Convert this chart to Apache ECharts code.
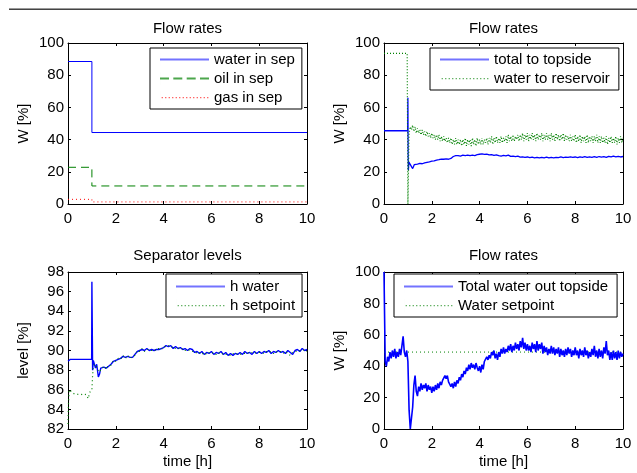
<!DOCTYPE html>
<html>
<head>
<meta charset="utf-8">
<script src="https://cdn.jsdelivr.net/npm/echarts@6/dist/echarts.min.js"></script>
<style>
html,body{margin:0;padding:0;background:#fff;}
#chart{width:637px;height:473px;}
</style>
</head>
<body>
<div id="chart"></div>
<script>
// ---------- DATA ----------
const xTicks = [0, 2, 4, 6, 8, 10];
const titles = ["Flow rates", "Flow rates", "Separator levels", "Flow rates"];

// Panel 1 (step profiles) [time, value]
const waterInSep = [[0, 88.5], [1, 88.5], [1, 44.4], [10, 44.4]];
const oilInSep = [[0, 22.8], [1, 22.8], [1, 11.2], [10, 11.2]];
const gasInSep = [[0, 2.9], [1, 2.9], [1, 1.3], [10, 1.3]];

// Panel 2
const totalTopsidePrefix = [[0, 45.5], [0.99, 45.5], [1.0, 66], [1.01, 30], [1.02, 21], [1.04, 26], [1.08, 27], [1.12, 25.5], [1.2, 22], [1.27, 24.5], [1.35, 24.3]];
const totalTopsideStart = 1.4, totalTopsideStep = 0.1;
const totalTopside = [24.8, 25.2, 25.0, 25.6, 25.9, 26.2, 26.6, 26.8, 27.3, 27.5, 27.9, 27.8, 28.0, 27.8, 28.3, 29.5, 30.0, 30.1, 29.8, 30.3,
  30.1, 30.4, 30.0, 30.3, 30.1, 30.6, 30.9, 31.2, 30.8, 31.0, 30.5, 30.7, 30.2, 30.5, 30.0, 29.8, 30.2, 29.9, 30.4, 29.6,
  29.8, 29.4, 29.7, 29.1, 29.3, 28.9, 29.2, 28.8, 29.1, 28.7, 29.0, 28.6, 29.0, 28.7, 29.1, 28.6, 28.9, 28.7, 29.0, 28.8,
  29.2, 28.8, 29.1, 28.9, 29.3, 28.9, 29.2, 28.8, 29.3, 29.0, 29.4, 28.9, 29.3, 29.0, 29.4, 29.0, 29.5, 29.1, 29.4, 29.0,
  29.6, 29.2, 29.7, 29.3, 29.6, 29.2, 29.5];

const waterReservoirPrefix = [[0, 93.5], [0.97, 93.5], [1.0, 0], [1.02, 0]];
const waterReservoirStart = 1.05, waterReservoirStep = 0.05;
const waterReservoir = [44, 48, 46, 49, 45, 48, 44, 47, 44, 46, 43, 46, 43, 45, 42, 45, 42, 44, 41, 44,
  41, 43, 40, 43, 40, 43, 39, 42, 39, 42, 39, 41, 38, 41, 38, 41, 37, 40, 37, 41,
  37, 40, 37, 40, 36, 40, 37, 41, 36, 40, 37, 40, 36, 41, 37, 40, 36, 41, 37, 40,
  37, 41, 37, 40, 38, 41, 37, 41, 38, 42, 37, 41, 38, 42, 38, 41, 38, 42, 38, 41,
  39, 42, 38, 43, 39, 42, 39, 43, 39, 42, 40, 43, 39, 43, 40, 44, 39, 43, 40, 44,
  39, 43, 40, 44, 40, 43, 39, 44, 40, 43, 40, 44, 39, 43, 40, 44, 40, 43, 39, 44,
  40, 43, 39, 44, 40, 43, 39, 43, 40, 44, 39, 43, 40, 42, 39, 43, 39, 42, 39, 43,
  38, 42, 39, 43, 38, 42, 39, 42, 38, 43, 38, 42, 39, 42, 38, 42, 39, 43, 38, 42,
  38, 42, 38, 41, 38, 42, 37, 41, 38, 42, 38, 41, 38, 42, 37, 41, 38, 42, 38, 41];

// Panel 3
const hWaterPrefix = [[0, 88.9], [0.05, 89.05], [0.1, 89.1], [0.99, 89.1], [1.0, 97], [1.02, 97], [1.03, 88], [1.06, 89.0], [1.1, 89.1], [1.15, 88.2], [1.2, 88.6], [1.27, 87.3], [1.32, 87.6], [1.37, 88.2]];
const hWaterStart = 1.4, hWaterStep = 0.1;
const hWater = [88.2, 88.3, 88.2, 88.4, 88.6, 88.9, 89.0, 89.1, 89.2, 89.4, 89.3, 89.4, 89.3, 89.3, 89.6, 89.9, 90.0, 90.1, 90.0, 90.2,
  90.0, 90.1, 90.0, 90.1, 90.1, 90.2, 90.3, 90.5, 90.4, 90.5, 90.2, 90.4, 90.2, 90.3, 90.1, 90.2, 90.0, 90.2, 90.1, 89.8,
  89.9, 89.7, 89.9, 89.6, 89.8, 89.7, 89.9, 89.6, 89.8, 89.7, 89.9, 89.6, 89.8, 89.5, 89.7, 89.5, 89.7, 89.6, 89.8, 89.6,
  89.9, 89.7, 89.8, 89.6, 89.9, 89.7, 89.9, 89.7, 89.9, 89.8, 90.0, 89.7, 89.9, 89.8, 90.0, 89.8, 89.9, 89.7, 90.0, 89.8,
  89.6, 90.0, 90.1, 89.9, 90.2, 90.0, 90.1];

const hSetpointPrefix = [[0, 82.5], [0.02, 84.5], [0.05, 86.0], [0.1, 86.1], [0.15, 85.8], [0.2, 85.9], [0.25, 85.6], [0.3, 85.8], [0.35, 85.6], [0.4, 85.7], [0.45, 85.5], [0.5, 85.7], [0.55, 85.5], [0.6, 85.7], [0.65, 85.6], [0.7, 85.8], [0.75, 85.5], [0.8, 85.4], [0.85, 85.1], [0.9, 85.7], [0.95, 85.8], [1.0, 86.0], [1.03, 87.5], [1.06, 88.3], [1.1, 88.6], [1.2, 88.3], [1.3, 87.8]];
const hSetpointStart = 1.4, hSetpointStep = 0.1;
const hSetpoint = [88.1, 88.4, 88.1, 88.5, 88.5, 89.0, 88.9, 89.2, 89.1, 89.5, 89.2, 89.5, 89.2, 89.4, 89.5, 90.0, 89.9, 90.2, 89.9, 90.1,
  90.1, 90.0, 90.1, 90.0, 90.2, 90.1, 90.4, 90.4, 90.5, 90.3, 90.4, 90.2, 90.3, 90.1, 90.2, 90.0, 90.1, 90.0, 89.9, 89.9,
  89.7, 89.8, 89.6, 89.8, 89.6, 89.8, 89.7, 89.8, 89.6, 89.8, 89.6, 89.7, 89.6, 89.6, 89.5, 89.7, 89.6, 89.7, 89.6, 89.7,
  89.7, 89.8, 89.7, 89.8, 89.7, 89.8, 89.8, 89.8, 89.7, 89.9, 89.8, 89.9, 89.7, 89.9, 89.8, 89.9, 89.7, 89.9, 89.7, 89.5,
  89.8, 89.9, 89.9, 90.0, 90.0, 90.1, 89.9];

// Panel 4
const waterOutStart = 0, waterOutStep = 0.05;
const waterOut = [100, 43, 40, 46, 43, 49, 45, 50, 46, 51, 45, 49, 46, 51, 47, 53, 59, 49, 46, 50,
  43, 12, 0, 0, 14, 28, 34, 24, 21, 27, 24, 29, 25, 28, 26, 29, 24, 28, 25, 27,
  23, 27, 24, 28, 25, 29, 26, 30, 28, 31, 30, 34, 32, 34, 30, 31, 27, 29, 26, 30,
  27, 31, 29, 33, 31, 35, 33, 37, 35, 39, 37, 41, 38, 42, 39, 41, 38, 42, 39, 37,
  40, 36, 41, 38, 43, 42, 46, 44, 47, 45, 49, 47, 50, 45, 48, 44, 49, 46, 51, 48,
  52, 48, 51, 49, 53, 50, 54, 49, 53, 50, 55, 51, 54, 50, 56, 52, 58, 51, 55, 50,
  54, 50, 53, 49, 55, 51, 54, 49, 56, 50, 54, 51, 55, 48, 53, 49, 52, 47, 51, 48,
  53, 48, 52, 47, 51, 48, 52, 46, 51, 47, 50, 46, 51, 47, 52, 48, 51, 46, 50, 47,
  52, 47, 50, 45, 51, 47, 50, 46, 52, 47, 50, 45, 49, 46, 51, 47, 53, 46, 50, 45,
  51, 46, 50, 45, 52, 48, 56, 47, 50, 44, 49, 44, 50, 45, 49, 44, 50, 45, 49, 46, 48];
const waterSetpoint = [[0, 49], [10, 49]];

// ---------- HELPERS ----------
function seg(t0, dt, vals) { return vals.map((v, i) => [+(t0 + i * dt).toFixed(4), v]); }

const FONT = 'Liberation Sans, Arial, Helvetica, sans-serif';
const BLUE = '#0000ff', GREEN = '#008000', RED = '#ff0000';

const grids = [
  { left: 68, top: 43, width: 239, height: 161 },
  { left: 384, top: 43, width: 239, height: 161 },
  { left: 68, top: 272, width: 239, height: 157 },
  { left: 384, top: 272, width: 239, height: 157 }
];
const yRanges = [[0, 100, 20], [0, 100, 20], [82, 98, 2], [0, 100, 20]];
const yNames = ["W [%]", "W [%]", "level [%]", "W [%]"];
const xNames = ["", "", "time [h]", "time [h]"];

const xAxes = [], yAxes = [];
for (let g = 0; g < 4; g++) {
  const common = {
    gridIndex: g, type: 'value',
    axisLine: { show: true, onZero: false, lineStyle: { color: '#000', width: 1 } },
    axisTick: { show: true, inside: true, length: 3, lineStyle: { color: '#000' } },
    splitLine: { show: false }
  };
  xAxes.push(Object.assign({}, common, {
    position: 'bottom', min: 0, max: 10, interval: 2,
    axisLabel: { show: true, margin: 7, color: '#000', fontSize: 15, fontFamily: FONT },
    name: xNames[g], nameLocation: 'middle', nameGap: 25,
    nameTextStyle: { color: '#000', fontSize: 15, fontFamily: FONT }
  }));
  xAxes.push(Object.assign({}, common, {
    position: 'top', min: 0, max: 10, interval: 2, axisLabel: { show: false }
  }));
  yAxes.push(Object.assign({}, common, {
    position: 'left', min: yRanges[g][0], max: yRanges[g][1], interval: yRanges[g][2],
    axisLabel: { show: true, margin: 4, color: '#000', fontSize: 15, fontFamily: FONT },
    name: yNames[g], nameLocation: 'middle', nameGap: 37,
    nameTextStyle: { color: '#000', fontSize: 15, fontFamily: FONT }
  }));
  yAxes.push(Object.assign({}, common, {
    position: 'right', min: yRanges[g][0], max: yRanges[g][1], interval: yRanges[g][2],
    axisLabel: { show: false }
  }));
}

const DASH = [8, 5], DOT = [1, 3];
const styleOf = {};
function line(name, g, data, color, kind, z, w) {
  styleOf[name] = { color: color, kind: kind || 'solid' };
  const type = kind === 'dash' ? DASH : kind === 'dot' ? DOT : kind === 'dot2' ? [1, 2] : 'solid';
  return {
    name: name, type: 'line', xAxisIndex: g * 2, yAxisIndex: g * 2,
    data: data, showSymbol: false, symbol: 'none', animation: false,
    z: z || 2,
    lineStyle: { color: color, width: w || 1, type: type },
    itemStyle: { color: color }
  };
}

const series = [
  line("water in sep", 0, waterInSep, BLUE),
  line("oil in sep", 0, oilInSep, GREEN, 'dash'),
  line("gas in sep", 0, gasInSep, RED, 'dot'),
  line("total to topside", 1, totalTopsidePrefix.concat(seg(totalTopsideStart, totalTopsideStep, totalTopside)), BLUE, 'solid', 2, 1.3),
  line("water to reservoir", 1, waterReservoirPrefix.concat(seg(waterReservoirStart, waterReservoirStep, waterReservoir)), GREEN, 'dot2', 3, 1.2),
  line("h water", 2, hWaterPrefix.concat(seg(hWaterStart, hWaterStep, hWater)), BLUE, 'solid', 2, 1.4),
  line("h setpoint", 2, hSetpointPrefix.concat(seg(hSetpointStart, hSetpointStep, hSetpoint)), GREEN, 'dot', 3, 1.2),
  line("Water setpoint", 3, waterSetpoint, GREEN, 'dot', 2),
  line("Total water out topside", 3, seg(waterOutStart, waterOutStep, waterOut), BLUE, 'solid', 3, 1.6)
];

// legend icon shapes (49 x 14 box, 2px line at mid height)
const BOUNDS = 'M0,0h0.01v14h-0.01z ';
function iconPath(kind) {
  if (kind === 'solid') return 'path://' + BOUNDS + 'M0,6h49v2h-49z';
  let p = 'path://' + BOUNDS;
  if (kind === 'dash') {
    [0, 13.3, 26.7, 40].forEach(x => { p += 'M' + x + ',6h9v2h-9z '; });
  } else {
    for (let x = 1; x < 49; x += 3.5) p += 'M' + x.toFixed(2) + ',6.5h1.2v1.2h-1.2z ';
  }
  return p;
}

function legend(names, left, top, padding) {
  return {
    data: names.map(n => ({
      name: n,
      icon: iconPath(styleOf[n].kind === 'dot2' ? 'dot' : styleOf[n].kind),
      itemStyle: { color: styleOf[n].color, borderWidth: 0, opacity: styleOf[n].kind === 'solid' ? 0.55 : 0.7 }
    })),
    orient: 'vertical', left: left, top: top, padding: padding,
    itemWidth: 49, itemHeight: 14, itemGap: 4, selectedMode: false,
    borderColor: '#000', borderWidth: 1, backgroundColor: '#fff',
    textStyle: { color: '#000', fontSize: 15, fontFamily: FONT }
  };
}

const option = {
  animation: false,
  backgroundColor: '#fff',
  grid: grids,
  xAxis: xAxes,
  yAxis: yAxes,
  title: titles.map((t, i) => ({
    text: t, left: grids[i].left + grids[i].width / 2, top: i < 2 ? 21 : 248,
    textAlign: 'center', padding: 0,
    textStyle: { color: '#000', fontSize: 15, fontWeight: 'normal', fontFamily: FONT }
  })),
  legend: [
    legend(["water in sep", "oil in sep", "gas in sep"], 150, 48, [4, 7, 4, 10]),
    legend(["total to topside", "water to reservoir"], 430, 48, [4, 9, 4, 10]),
    legend(["h water", "h setpoint"], 166, 274, [5, 7, 4, 10]),
    legend(["Total water out topside", "Water setpoint"], 394, 274, [5, 9, 4, 10])
  ],
  graphic: [
    { type: 'line', shape: { x1: 9, y1: 8.5, x2: 637, y2: 8.5 }, style: { stroke: '#9a9a9a', lineWidth: 1 } },
    { type: 'line', shape: { x1: 9, y1: 9.5, x2: 637, y2: 9.5 }, style: { stroke: '#444', lineWidth: 1 } }
  ],
  series: series
};

const chart = echarts.init(document.getElementById('chart'), null, { renderer: 'canvas' });
chart.setOption(option);
</script>
</body>
</html>
